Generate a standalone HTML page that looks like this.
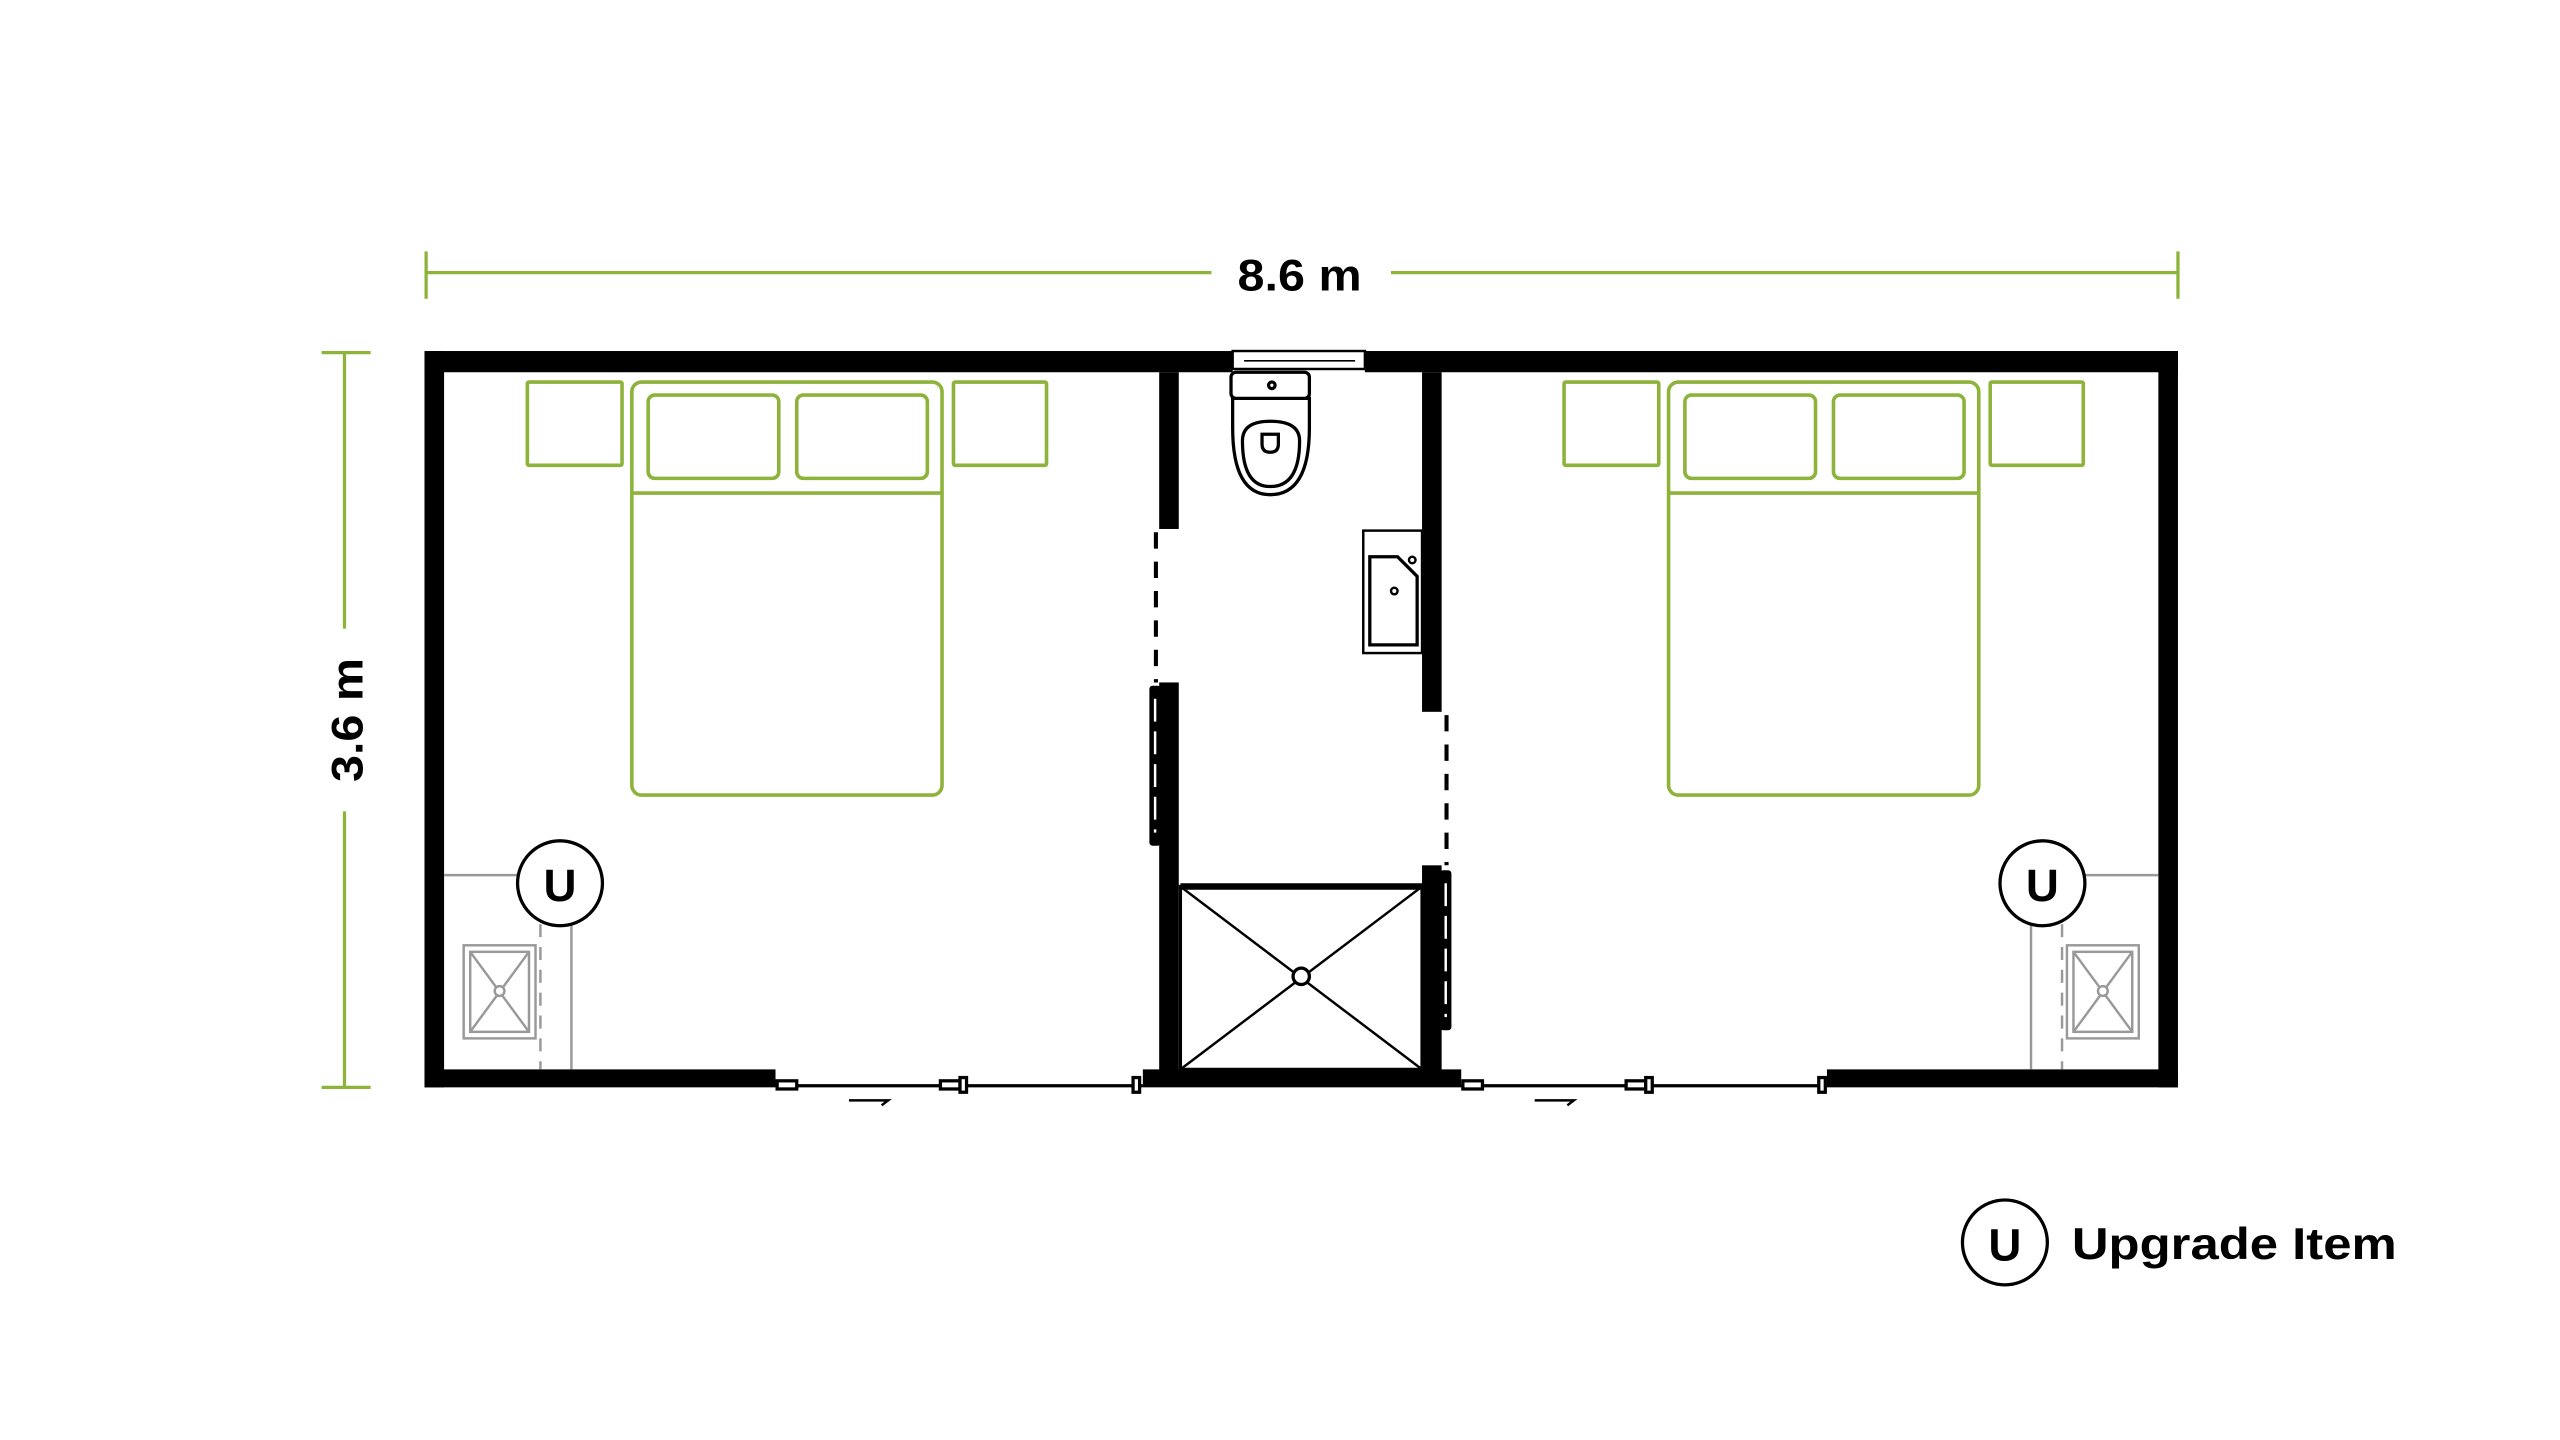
<!DOCTYPE html>
<html><head><meta charset="utf-8"><style>
html,body{margin:0;padding:0;background:#fff;}
svg{display:block;width:2560px;height:1440px;}
text{font-family:"Liberation Sans",sans-serif;font-weight:bold;fill:#000;}
</style></head><body>
<svg viewBox="0 0 1568 882" xmlns="http://www.w3.org/2000/svg">
<g stroke="#8db33a" stroke-width="2" fill="none">
<line x1="261" y1="167" x2="742" y2="167"/><line x1="852" y1="167" x2="1334" y2="167"/>
<line x1="261" y1="154" x2="261" y2="183"/><line x1="1334" y1="154" x2="1334" y2="183"/>
<line x1="211" y1="216" x2="211" y2="385"/><line x1="211" y1="497" x2="211" y2="666"/>
<line x1="197" y1="216" x2="227" y2="216"/><line x1="197" y1="666" x2="227" y2="666"/>
</g>
<text x="796" y="178" font-size="27" text-anchor="middle" textLength="76" lengthAdjust="spacingAndGlyphs">8.6 m</text>
<text transform="translate(222,441) rotate(-90)" font-size="27" text-anchor="middle" textLength="76" lengthAdjust="spacingAndGlyphs">3.6 m</text>

<g fill="#000">
<rect x="260" y="215" width="495" height="13"/>
<rect x="836" y="215" width="498" height="13"/>
<rect x="260" y="215" width="12" height="451"/>
<rect x="1322" y="215" width="12" height="451"/>
<rect x="260" y="655" width="215" height="11"/>
<rect x="1119" y="655" width="215" height="11"/>
<rect x="700" y="655" width="195" height="11"/>
<rect x="710" y="228" width="12" height="96"/>
<rect x="710" y="418" width="12" height="240"/>
<rect x="871" y="228" width="12" height="208"/>
<rect x="871" y="530" width="12" height="128"/>
</g>
<rect x="755" y="215" width="81" height="11" fill="#fff" stroke="#000" stroke-width="1.5"/>
<line x1="762" y1="221" x2="830" y2="221" stroke="#000" stroke-width="1"/>
<g stroke="#000" stroke-width="2.5" stroke-dasharray="10,8" fill="none">
<line x1="708" y1="326" x2="708" y2="418"/>
<line x1="886" y1="438" x2="886" y2="530"/>
</g>
<g fill="#000">
<rect x="704" y="420" width="7" height="98" rx="2"/>
<rect x="882" y="533" width="7" height="98" rx="2"/>
</g>
<g stroke="#fff" stroke-width="1.5" stroke-dasharray="14,6">
<line x1="707.5" y1="428" x2="707.5" y2="510"/>
<line x1="885.5" y1="541" x2="885.5" y2="623"/>
</g>
<rect x="723" y="543" width="148" height="112" fill="#fff" stroke="#000" stroke-width="2"/>
<line x1="723" y1="543" x2="871" y2="543" stroke="#000" stroke-width="4"/>
<line x1="723" y1="543" x2="871" y2="655" stroke="#000" stroke-width="1.5"/>
<line x1="871" y1="543" x2="723" y2="655" stroke="#000" stroke-width="1.5"/>
<circle cx="797" cy="598" r="5" fill="#fff" stroke="#000" stroke-width="2"/>
<g stroke="#000" stroke-width="2" fill="#fff">
<path d="M755 262 Q755 303 778 303 Q802 303 802 262 L802 244 L755 244 Z"/>
<rect x="754" y="228" width="48" height="16" rx="3"/>
<path d="M761 270 Q761 298 778 298 Q796 298 796 270 Q796 258 778 258 Q761 258 761 270 Z"/>
<path d="M773 266 h10 v6 q0 5 -5 5 q-5 0 -5 -5 Z"/>
<circle cx="779" cy="236" r="2"/>
</g>
<g stroke="#000" stroke-width="1.5" fill="#fff">
<rect x="835" y="325" width="36" height="75"/>
<path d="M839 341 L856 341 L868 353 L868 395 L839 395 Z" stroke-width="2"/>
<circle cx="854" cy="362" r="2"/><circle cx="865" cy="343" r="2"/>
</g>
<g stroke="#000" stroke-width="2" fill="#fff">
<line x1="475" y1="665" x2="700" y2="665"/>
<line x1="895" y1="665" x2="1119" y2="665"/>
<rect x="476" y="662" width="12" height="5"/><rect x="576" y="662" width="12" height="5"/><rect x="588" y="660" width="4" height="9"/><rect x="694" y="660" width="4" height="9"/>
<rect x="896" y="662" width="12" height="5"/><rect x="996" y="662" width="12" height="5"/><rect x="1008" y="660" width="4" height="9"/><rect x="1114" y="660" width="4" height="9"/>
</g>
<path d="M520 674 h24 l-4 3 M940 674 h24 l-4 3" stroke="#000" stroke-width="1.5" fill="none"/>

<g id="bed" stroke="#8db33a" stroke-width="2.2" fill="none">
<rect x="323" y="234" width="58" height="51" rx="1"/>
<rect x="584" y="234" width="57" height="51" rx="1"/>
<rect x="387" y="234" width="190" height="253" rx="6"/>
<line x1="387" y1="302" x2="577" y2="302"/>
<rect x="397" y="242" width="80" height="51" rx="4"/>
<rect x="488" y="242" width="80" height="51" rx="4"/>
</g>
<use href="#bed" transform="translate(635,0)"/>

<g stroke="#999" stroke-width="1.5" fill="none">
<path d="M272 536 H318 M350 566 V655" />
<line x1="331" y1="566" x2="331" y2="655" stroke-dasharray="8,6"/>
<rect x="284" y="579" width="44" height="57"/>
<rect x="288" y="583" width="36" height="49"/>
<path d="M288 583 L324 632 M324 583 L288 632"/>
<circle cx="306" cy="607" r="3" fill="#fff"/>
<path d="M1322 536 H1276 M1244 566 V655"/>
<line x1="1263" y1="566" x2="1263" y2="655" stroke-dasharray="8,6"/>
<rect x="1266" y="579" width="44" height="57"/>
<rect x="1270" y="583" width="36" height="49"/>
<path d="M1270 583 L1306 632 M1306 583 L1270 632"/>
<circle cx="1288" cy="607" r="3" fill="#fff"/>
</g>
<g stroke="#000" stroke-width="2" fill="#fff">
<circle cx="343" cy="541" r="26"/>
<circle cx="1251" cy="541" r="26"/>
<circle cx="1228" cy="761" r="26"/>
</g>
<text x="343" y="552" font-size="28" text-anchor="middle">U</text>
<text x="1251" y="552" font-size="28" text-anchor="middle">U</text>
<text x="1228" y="772" font-size="28" text-anchor="middle">U</text>
<text x="1269" y="771" font-size="27" textLength="199" lengthAdjust="spacingAndGlyphs">Upgrade Item</text>
</svg>
</body></html>
